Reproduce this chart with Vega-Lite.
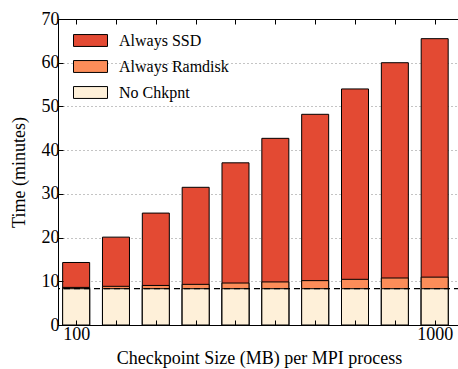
{
  "$schema": "https://vega.github.io/schema/vega-lite/v6.json",
  "autosize": "none",
  "width": 402,
  "height": 306,
  "padding": {"left": 58, "top": 19, "right": 0, "bottom": 44},
  "config": {
    "font": "Liberation Serif",
    "view": {"stroke": "black", "strokeWidth": 1},
    "axis": {"labelFont": "Liberation Serif", "titleFont": "Liberation Serif", "labelColor": "black", "titleColor": "black", "titleFontWeight": "normal", "domain": false}
  },
  "data": {
    "values": [
      {"size": 100, "series": "Always SSD", "time": 14.3},
      {"size": 200, "series": "Always SSD", "time": 20.1},
      {"size": 300, "series": "Always SSD", "time": 25.6},
      {"size": 400, "series": "Always SSD", "time": 31.5},
      {"size": 500, "series": "Always SSD", "time": 37.1},
      {"size": 600, "series": "Always SSD", "time": 42.7},
      {"size": 700, "series": "Always SSD", "time": 48.2},
      {"size": 800, "series": "Always SSD", "time": 54.0},
      {"size": 900, "series": "Always SSD", "time": 60.0},
      {"size": 1000, "series": "Always SSD", "time": 65.5},
      {"size": 100, "series": "Always Ramdisk", "time": 8.6},
      {"size": 200, "series": "Always Ramdisk", "time": 8.85},
      {"size": 300, "series": "Always Ramdisk", "time": 9.05},
      {"size": 400, "series": "Always Ramdisk", "time": 9.3},
      {"size": 500, "series": "Always Ramdisk", "time": 9.6},
      {"size": 600, "series": "Always Ramdisk", "time": 9.85},
      {"size": 700, "series": "Always Ramdisk", "time": 10.15},
      {"size": 800, "series": "Always Ramdisk", "time": 10.45},
      {"size": 900, "series": "Always Ramdisk", "time": 10.75},
      {"size": 1000, "series": "Always Ramdisk", "time": 10.95},
      {"size": 100, "series": "No Chkpnt", "time": 8.3},
      {"size": 200, "series": "No Chkpnt", "time": 8.3},
      {"size": 300, "series": "No Chkpnt", "time": 8.3},
      {"size": 400, "series": "No Chkpnt", "time": 8.3},
      {"size": 500, "series": "No Chkpnt", "time": 8.3},
      {"size": 600, "series": "No Chkpnt", "time": 8.3},
      {"size": 700, "series": "No Chkpnt", "time": 8.3},
      {"size": 800, "series": "No Chkpnt", "time": 8.3},
      {"size": 900, "series": "No Chkpnt", "time": 8.3},
      {"size": 1000, "series": "No Chkpnt", "time": 8.3}
    ]
  },
  "resolve": {"axis": {"x": "independent", "y": "independent"}},
  "layer": [
    {
      "mark": {"type": "bar", "width": 27, "stroke": "black", "strokeWidth": 1},
      "encoding": {
        "x": {
          "field": "size", "type": "quantitative",
          "scale": {"domain": [67, 1051], "nice": false, "zero": false},
          "axis": {
            "orient": "bottom", "title": "Checkpoint Size (MB) per MPI process",
            "values": [100, 200, 300, 400, 500, 600, 700, 800, 900, 1000],
            "format": "d",
            "labelExpr": "datum.value == 100 || datum.value == 1000 ? datum.label : ''",
            "labelFontSize": 18, "labelPadding": 5, "labelFlush": false,
            "titleFontSize": 18, "titlePadding": 6,
            "tickSize": -5, "tickColor": "black", "tickWidth": 1,
            "grid": false, "zindex": 1
          }
        },
        "y": {
          "field": "time", "type": "quantitative", "stack": null,
          "scale": {"domain": [0, 70], "nice": false},
          "axis": {
            "orient": "left", "title": "Time (minutes)",
            "values": [0, 10, 20, 30, 40, 50, 60, 70],
            "labelFontSize": 18, "labelPadding": 4,
            "titleFontSize": 18, "titlePadding": 13,
            "tickSize": -5, "tickColor": "black", "tickWidth": 1,
            "grid": false, "zindex": 1
          }
        },
        "color": {
          "field": "series", "type": "nominal",
          "scale": {"domain": ["Always SSD", "Always Ramdisk", "No Chkpnt"], "range": ["#e34a33", "#fc8d59", "#fef0d9"]},
          "legend": {
            "title": null, "orient": "none", "legendX": 15, "legendY": 4,
            "padding": 0,
            "symbolType": "M-1,-0.35L1,-0.35L1,0.35L-1,0.35Z",
            "symbolSize": 1156, "symbolStrokeColor": "black", "symbolStrokeWidth": 1,
            "symbolOpacity": 1,
            "labelFont": "Liberation Serif", "labelFontSize": 16, "labelColor": "black",
            "labelOffset": 11, "rowPadding": -10.5
          }
        }
      }
    },
    {
      "transform": [{"filter": "datum.series == 'No Chkpnt'"}],
      "mark": {"type": "rule", "color": "black", "strokeWidth": 1.2, "strokeDash": [6, 4]},
      "encoding": {
        "y": {
          "aggregate": "mean", "field": "time", "type": "quantitative",
          "axis": {
            "orient": "right", "title": null, "labels": false, "ticks": false,
            "values": [10, 20, 30, 40, 50, 60],
            "grid": true, "gridColor": "#888", "gridDash": [1, 3], "gridWidth": 1, "zindex": 0
          }
        }
      }
    },
    {
      "mark": {"type": "point", "opacity": 0},
      "encoding": {
        "x": {
          "field": "size", "type": "quantitative",
          "axis": {
            "orient": "top", "title": null, "labels": false,
            "values": [100, 200, 300, 400, 500, 600, 700, 800, 900, 1000],
            "tickSize": -5, "tickColor": "black", "tickWidth": 1,
            "grid": false, "zindex": 1
          }
        }
      }
    }
  ]
}
